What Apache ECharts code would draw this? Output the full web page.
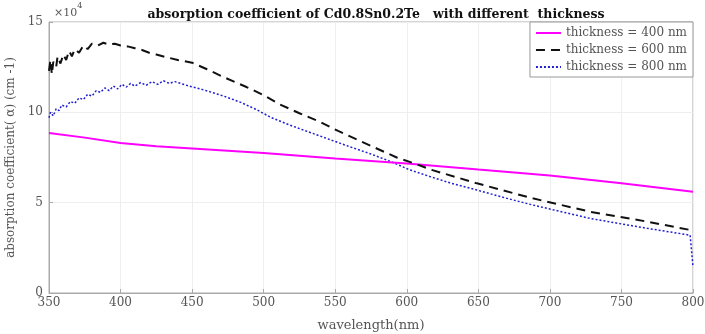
<!DOCTYPE html>
<html>
<head>
<meta charset="utf-8">
<script src="https://cdn.jsdelivr.net/npm/echarts@6/dist/echarts.min.js"></script>
<style>
  html, body { margin: 0; padding: 0; background: #fff; }
  #chart { width: 705px; height: 334px; }
</style>
</head>
<body>
<div id="chart"></div>
<script>
// values are in units of 1e4 cm^-1
const wl400 = [350, 375, 400, 425, 450, 500, 550, 600, 650, 700, 750, 800];
const abs400 = [8.85, 8.6, 8.3, 8.12, 8.0, 7.75, 7.45, 7.17, 6.83, 6.5, 6.07, 5.6];

const wl600 = [350, 351, 352, 353, 355, 356, 358, 360, 362, 364, 366, 368, 371, 374, 377, 380, 384, 388, 392, 396, 400, 405, 410, 415, 420, 425, 432, 440, 450, 460, 472, 488, 500, 511, 525, 540, 552, 565, 579, 593, 605, 618, 649, 688, 728, 768, 798, 800];
const abs600 = [12.3, 12.9, 12.1, 12.8, 12.5, 13.1, 12.7, 13.2, 12.9, 13.4, 13.1, 13.5, 13.3, 13.7, 13.5, 13.8, 13.7, 13.85, 13.75, 13.8, 13.7, 13.65, 13.55, 13.45, 13.3, 13.2, 13.05, 12.9, 12.75, 12.4, 11.95, 11.4, 10.95, 10.45, 9.95, 9.45, 8.97, 8.5, 8.0, 7.5, 7.18, 6.8, 6.07, 5.24, 4.5, 3.95, 3.49, 3.45];

const wl800 = [350, 351, 353, 355, 357, 359, 362, 365, 368, 371, 374, 377, 380, 383, 386, 389, 392, 395, 398, 401, 404, 407, 410, 414, 418, 422, 426, 430, 434, 438, 442, 448, 460, 472, 484, 495, 505, 518, 532, 546, 560, 574, 588, 602, 616, 630, 649, 668, 688, 708, 728, 748, 768, 798, 800];
const abs800 = [9.7, 10.0, 9.8, 10.2, 10.1, 10.4, 10.3, 10.6, 10.5, 10.8, 10.7, 11.0, 10.9, 11.2, 11.1, 11.35, 11.2, 11.45, 11.3, 11.55, 11.4, 11.6, 11.45, 11.65, 11.5, 11.7, 11.55, 11.75, 11.6, 11.7, 11.6, 11.45, 11.2, 10.9, 10.55, 10.15, 9.72, 9.3, 8.9, 8.5, 8.1, 7.72, 7.3, 6.82, 6.45, 6.1, 5.7, 5.28, 4.87, 4.5, 4.13, 3.85, 3.58, 3.2, 1.45];

const legendNames = ['thickness = 400 nm', 'thickness = 600 nm', 'thickness = 800 nm'];

const pairs = (xs, ys) => xs.map((x, i) => [x, ys[i]]);
const serif = '"DejaVu Serif", "Liberation Serif", serif';

const chart = echarts.init(document.getElementById('chart'));

const option = {
  animation: false,
  backgroundColor: '#fff',
  title: {
    text: 'absorption coefficient of Cd0.8Sn0.2Te   with different  thickness',
    left: 371,
    textAlign: 'center',
    top: 3,
    textStyle: { fontFamily: serif, fontSize: 12.5, fontWeight: 'bold', color: '#111' },
  },
  graphic: [
    {
      type: 'text',
      left: 54,
      top: 2,
      style: {
        text: '{a|×10}{b|4}',
        rich: {
          a: { fontFamily: serif, fontSize: 11, fill: '#555', padding: [6, 0, 0, 0] },
          b: { fontFamily: serif, fontSize: 8, fill: '#555', verticalAlign: 'top' },
        },
      },
    },
  ],
  legend: {
    data: legendNames,
    orient: 'vertical',
    right: 12,
    top: 22,
    itemWidth: 25,
    itemHeight: 10,
    itemGap: 5,
    padding: [5, 6, 4, 5],
    backgroundColor: '#fff',
    borderColor: '#999',
    borderWidth: 1,
    borderRadius: 0,
    itemStyle: { opacity: 0 },
    textStyle: { fontFamily: serif, fontSize: 12, color: '#555' },
  },
  grid: {
    left: 49,
    right: 12,
    top: 22,
    bottom: 41,
    outerBoundsMode: 'none',
    containLabel: false,
    show: true,
    borderColor: '#aaa',
    borderWidth: 1,
  },
  xAxis: {
    type: 'value',
    min: 350,
    max: 800,
    interval: 50,
    name: 'wavelength(nm)',
    nameLocation: 'middle',
    nameGap: 26,
    nameTextStyle: { fontFamily: serif, fontSize: 13, color: '#555' },
    axisLine: { lineStyle: { color: '#aaa' } },
    axisTick: { inside: true, length: 4, lineStyle: { color: '#aaa' } },
    axisLabel: { fontFamily: serif, fontSize: 12, color: '#555', margin: 4 },
    splitLine: { show: true, lineStyle: { color: '#eee' } },
  },
  yAxis: {
    type: 'value',
    min: 0,
    max: 15,
    interval: 5,
    name: 'absorption coefficient( α) (cm -1)',
    nameLocation: 'middle',
    nameGap: 31,
    nameTextStyle: { fontFamily: serif, fontSize: 12, color: '#555' },
    axisLine: { show: true, lineStyle: { color: '#aaa' } },
    axisTick: { show: true, inside: true, length: 4, lineStyle: { color: '#aaa' } },
    axisLabel: { fontFamily: serif, fontSize: 12, color: '#555', margin: 6 },
    splitLine: { show: true, lineStyle: { color: '#eee' } },
  },
  series: [
    {
      name: legendNames[0],
      type: 'line',
      symbol: 'none',
      data: pairs(wl400, abs400),
      lineStyle: { color: '#ff00ff', width: 2 },
      itemStyle: { color: '#ff00ff' },
      z: 3,
    },
    {
      name: legendNames[1],
      type: 'line',
      symbol: 'none',
      data: pairs(wl600, abs600),
      lineStyle: { color: '#111', width: 2, type: [9, 6] },
      itemStyle: { color: '#111' },
      z: 4,
    },
    {
      name: legendNames[2],
      type: 'line',
      symbol: 'none',
      data: pairs(wl800, abs800),
      lineStyle: { color: '#2020d0', width: 1.5, type: [2, 2] },
      itemStyle: { color: '#2020d0' },
      z: 2,
    },
  ],
};

chart.setOption(option);
</script>
</body>
</html>
